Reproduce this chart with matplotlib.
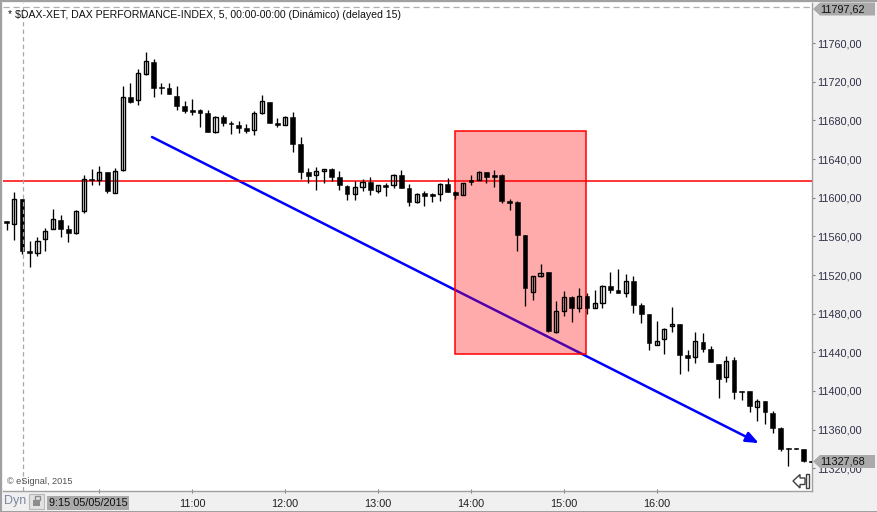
import matplotlib
matplotlib.use('Agg')
import matplotlib.pyplot as plt
from matplotlib.patches import Rectangle, Polygon, FancyBboxPatch

plt.rcParams['font.family'] = ['Liberation Sans', 'DejaVu Sans']

W, H = 878, 512

# OHLC bars, 5 min
opens = [11575.9, 11573.1, 11598.3, 11544.5, 11543.1, 11557.6, 11567.3, 11576.9, 11567.6, 11563.8,
         11586.6, 11619.0, 11618.3, 11626.3, 11605.2, 11629.0, 11704.2, 11700.8, 11728.3, 11740.1,
         11714.6, 11713.5, 11705.3, 11694.9, 11690.5, 11690.8, 11687.7, 11668.3, 11683.5, 11677.6,
         11675.3, 11672.1, 11669.8, 11688.0, 11699.1, 11677.0, 11675.6, 11683.5, 11655.6, 11626.6,
         11623.2, 11627.3, 11629.4, 11621.1, 11612.1, 11604.1, 11611.4, 11615.9, 11607.3, 11613.2,
         11613.5, 11623.2, 11609.7, 11595.9, 11604.6, 11603.8, 11604.1, 11613.9, 11605.6, 11603.1,
         11618.0, 11618.3, 11626.3, 11623.2, 11623.5, 11596.6, 11595.6, 11561.1, 11502.7, 11519.3,
         11522.8, 11461.3, 11483.1, 11496.9, 11486.2, 11498.3, 11486.2, 11491.3, 11508.6, 11504.2,
         11501.7, 11513.8, 11489.0, 11479.6, 11447.9, 11454.1, 11466.9, 11469.3, 11436.9, 11434.8,
         11450.3, 11443.4, 11427.9, 11414.1, 11432.0, 11399.9, 11399.9, 11383.7, 11389.6, 11377.2,
         11361.6, 11340.6, 11340.6, 11339.9, 11327.2]
highs = [11575.9, 11605.9, 11598.3, 11555.2, 11559.3, 11568.6, 11588.3, 11582.1, 11571.8, 11587.3,
         11623.5, 11629.7, 11632.8, 11626.6, 11631.1, 11715.3, 11718.7, 11733.2, 11750.8, 11743.6,
         11718.7, 11718.7, 11715.6, 11700.1, 11702.2, 11691.8, 11690.5, 11684.6, 11685.6, 11679.4,
         11679.4, 11676.0, 11689.7, 11706.3, 11699.1, 11682.2, 11684.3, 11688.4, 11662.5, 11630.7,
         11631.8, 11629.7, 11630.7, 11627.3, 11613.2, 11617.6, 11619.0, 11621.1, 11613.2, 11615.5,
         11624.5, 11628.7, 11613.9, 11604.6, 11606.9, 11605.2, 11614.9, 11620.4, 11606.9, 11614.9,
         11623.2, 11627.6, 11626.6, 11628.7, 11624.2, 11598.7, 11596.3, 11561.1, 11518.7, 11531.4,
         11522.8, 11492.8, 11503.1, 11498.3, 11506.2, 11501.1, 11504.5, 11509.3, 11523.1, 11525.9,
         11521.0, 11519.0, 11490.7, 11479.6, 11472.4, 11464.8, 11486.9, 11469.3, 11442.4, 11461.3,
         11460.0, 11446.5, 11427.9, 11436.2, 11434.8, 11399.9, 11399.9, 11391.3, 11389.6, 11378.9,
         11362.4, 11340.6, 11340.6, 11339.9, 11327.2]
lows = [11566.6, 11556.2, 11541.7, 11528.6, 11539.7, 11545.2, 11567.3, 11559.6, 11554.5, 11562.7,
        11584.5, 11613.2, 11613.2, 11605.2, 11604.6, 11628.0, 11698.3, 11696.0, 11727.3, 11704.5,
        11707.3, 11707.3, 11690.8, 11687.7, 11685.6, 11673.2, 11668.3, 11667.3, 11674.2, 11666.2,
        11667.3, 11667.3, 11664.9, 11686.9, 11677.6, 11673.5, 11674.9, 11647.6, 11619.7, 11615.5,
        11608.0, 11615.5, 11617.6, 11608.0, 11597.6, 11597.6, 11607.3, 11603.1, 11604.9, 11601.8,
        11610.4, 11610.4, 11591.4, 11594.8, 11591.4, 11595.9, 11596.6, 11605.9, 11599.0, 11603.1,
        11613.5, 11618.0, 11615.5, 11611.4, 11594.8, 11587.3, 11544.8, 11488.2, 11494.1, 11518.2,
        11461.0, 11460.3, 11477.9, 11471.4, 11481.7, 11479.6, 11486.2, 11486.2, 11501.7, 11501.0,
        11496.9, 11481.0, 11470.6, 11442.4, 11447.9, 11438.5, 11461.3, 11417.5, 11421.0, 11429.2,
        11440.3, 11430.3, 11393.0, 11409.6, 11392.0, 11390.9, 11378.2, 11369.2, 11366.1, 11356.8,
        11338.2, 11322.6, 11339.6, 11326.8, 11326.1]
closes = [11574.2, 11598.3, 11545.2, 11543.1, 11554.9, 11565.2, 11577.6, 11567.9, 11563.8, 11586.2,
          11619.0, 11618.0, 11626.3, 11607.3, 11627.3, 11703.9, 11699.4, 11728.8, 11741.5, 11713.9,
          11713.2, 11707.3, 11695.2, 11689.7, 11689.0, 11688.0, 11668.3, 11683.2, 11677.6, 11676.0,
          11672.5, 11669.0, 11687.4, 11699.8, 11677.6, 11675.3, 11683.2, 11655.9, 11626.9, 11622.8,
          11627.3, 11629.4, 11621.7, 11612.8, 11604.1, 11610.8, 11615.9, 11608.3, 11612.8, 11611.4,
          11623.2, 11610.4, 11595.9, 11603.5, 11602.1, 11602.1, 11613.9, 11605.9, 11603.1, 11614.9,
          11616.3, 11626.3, 11621.7, 11621.7, 11596.6, 11594.8, 11561.7, 11506.9, 11518.7, 11521.8,
          11462.0, 11482.4, 11496.9, 11486.2, 11498.0, 11486.2, 11490.7, 11508.6, 11504.5, 11501.4,
          11513.5, 11489.3, 11479.9, 11449.9, 11451.4, 11463.8, 11469.0, 11437.5, 11434.4, 11451.4,
          11443.7, 11430.3, 11412.7, 11430.7, 11399.2, 11398.6, 11384.7, 11389.3, 11378.5, 11362.0,
          11339.9, 11339.6, 11339.6, 11327.8, 11326.1]

price_ticks = [11320, 11360, 11400, 11440, 11480, 11520, 11560, 11600, 11640, 11680, 11720, 11760]
time_ticks = [12, 24, 36, 48, 60, 72, 84]
time_labels = ['', '11:00', '12:00', '13:00', '14:00', '15:00', '16:00']
session_bar = 2.1
level_price = 11617.8
high_price = 11797.62
last_price = 11327.68
box_bars = [58, 74.9]
box_prices = [11438.5, 11668.7]
trend_bars = [18.8, 97.2]
trend_prices = [11662.8, 11346.0]

GREY = '#f0f0f0'
TAG = '#aaaaaa'


def fx(x):
    return x / W


def fy(y):
    return 1 - y / H


fig = plt.figure(figsize=(W / 100, H / 100), dpi=100, facecolor=GREY)
L, R, T, B = 3, 812.3, 2.5, 490.7
ax = fig.add_axes([fx(L), fy(B), fx(R - L), (B - T) / H], facecolor='white')
ax.set_xlim((L - 6.5) / 7.74, (R - 6.5) / 7.74)
ax.set_ylim(11296.8, 11802.0)
for s in ['left', 'top']:
    ax.spines[s].set_visible(False)
for s in ['right', 'bottom']:
    ax.spines[s].set_color('#a0a0a0')
    ax.spines[s].set_linewidth(1.0)

# trend arrow under the box, so the box tints it
ax.annotate('', xy=(trend_bars[1], trend_prices[1]), xytext=(trend_bars[0], trend_prices[0]),
            arrowprops=dict(arrowstyle='-|>,head_length=0.55,head_width=0.22', color='#0000ff',
                            lw=1.8, mutation_scale=14, shrinkA=0, shrinkB=0), zorder=1)
ax.add_patch(Rectangle((box_bars[0], box_prices[0]), box_bars[1] - box_bars[0], box_prices[1] - box_prices[0],
                       facecolor=(1, 0, 0, 0.33), edgecolor='#ff0000', lw=1.1, zorder=2))
ax.axhline(level_price, color='#ff0000', lw=1.1, zorder=3)

# candles, white ones are hollow
for i in range(len(opens)):
    ax.plot([i, i], [lows[i], highs[i]], color='black', lw=0.95, solid_capstyle='butt', zorder=4)
    top = max(opens[i], closes[i])
    bottom = min(opens[i], closes[i])
    if closes[i] >= opens[i]:
        ax.add_patch(Rectangle((i - 0.27, bottom), 0.54, top - bottom, facecolor='none',
                               edgecolor='black', lw=1.0, zorder=4))
    else:
        ax.add_patch(Rectangle((i - 0.31, bottom), 0.62, top - bottom, facecolor='black',
                               edgecolor='black', lw=0.4, zorder=4))

ax.axvline(session_bar, color='#a8a8a8', lw=0.9, dashes=(3.5, 2.5), zorder=5)
ax.axhline(high_price, color='#b0b0b0', lw=0.9, dashes=(5, 3), zorder=5)

ax.yaxis.tick_right()
ax.set_yticks(price_ticks)
ax.set_yticklabels([f'{p},00' for p in price_ticks], fontsize=7.85, color='#303048')
ax.tick_params(axis='y', length=2.5, width=0.8, color='#808080', pad=1.2)
ax.set_xticks(time_ticks)
ax.set_xticklabels(time_labels, fontsize=7.85, color='#202020')
ax.tick_params(axis='x', length=2.5, width=0.8, color='#808080', pad=5, direction='inout')

fig.text(fx(8), fy(15), '* $DAX-XET, DAX PERFORMANCE-INDEX, 5, 00:00-00:00 (Dinámico) (delayed 15)',
         fontsize=7.57, color='#101010', va='center', ha='left')
fig.text(fx(7), fy(482), '© eSignal, 2015', fontsize=6.6, color='#505050', va='center', ha='left')

# outer frame
fig.add_artist(Rectangle((0, fy(2)), 1, 2 / H, facecolor='#a0a0a0', edgecolor='none', transform=fig.transFigure))
fig.add_artist(Rectangle((0, 0), fx(2), 1, facecolor='#a0a0a0', edgecolor='none', transform=fig.transFigure))
fig.add_artist(Rectangle((0, 0), 1, 1.2 / H, facecolor='#a0a0a0', edgecolor='none', transform=fig.transFigure))


def tag(y, label):
    pts = [(813, y), (820, y - 6.5), (875, y - 6.5), (875, y + 6.5), (820, y + 6.5)]
    fig.add_artist(Polygon([(fx(a), fy(b)) for a, b in pts], closed=True, facecolor=TAG, edgecolor='none',
                           transform=fig.transFigure, zorder=6))
    fig.text(fx(820), fy(y), label, fontsize=7.85, color='#101010', va='center', ha='left', zorder=7)


tag(9, f'{high_price:.2f}'.replace('.', ','))
tag(461.5, f'{last_price:.2f}'.replace('.', ','))

# session start label and buttons on the time strip
fig.add_artist(Rectangle((fx(47), fy(510)), fx(82), 14 / H, facecolor=TAG, edgecolor='none',
                         transform=fig.transFigure, zorder=6))
fig.text(fx(49), fy(503), '9:15 05/05/2015', fontsize=7.85, color='#101010', va='center', ha='left', zorder=7)
fig.text(fx(4), fy(501), 'Dyn', fontsize=9, color='#7c88a0', va='center', ha='left')
fig.add_artist(FancyBboxPatch((fx(29), fy(509)), fx(15), 15 / H, boxstyle='square,pad=0', facecolor='#e2e2e2',
                              edgecolor='#b8b8b8', lw=0.8, transform=fig.transFigure))
fig.add_artist(Rectangle((fx(33.5), fy(506)), fx(7), 6 / H, facecolor='#8c8c8c', edgecolor='none',
                         transform=fig.transFigure))
fig.add_artist(Rectangle((fx(34.5), fy(500)), fx(5), 4 / H, facecolor='none', edgecolor='#8c8c8c', lw=1,
                         transform=fig.transFigure))

# jump to end button
btn = [(793, 481), (800, 474.5), (800, 478), (805, 478), (805, 484.5), (800, 484.5), (800, 488)]
fig.add_artist(Polygon([(fx(a), fy(b)) for a, b in btn], closed=True, facecolor='white', edgecolor='#404040',
                       lw=1.0, transform=fig.transFigure, zorder=6))
fig.add_artist(Rectangle((fx(806.5), fy(488)), fx(2.5), 14 / H, facecolor='white', edgecolor='#404040', lw=1.0,
                         transform=fig.transFigure, zorder=6))

fig.savefig('out.png', dpi=100, facecolor=GREY)
